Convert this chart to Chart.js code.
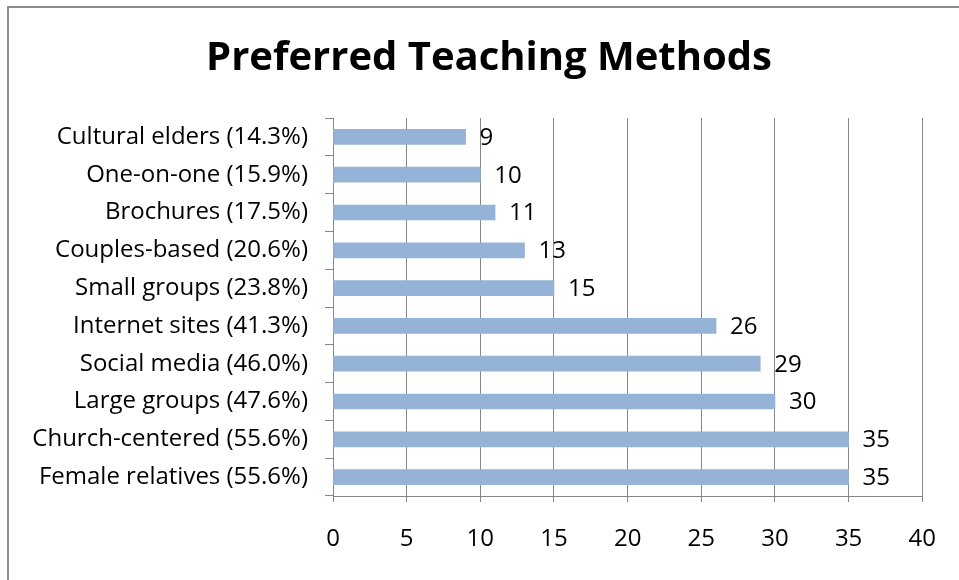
<!DOCTYPE html>
<html>
<head>
<meta charset="utf-8">
<script src="https://cdn.jsdelivr.net/npm/chart.js@4/dist/chart.umd.min.js"></script>
<style>
  html, body { margin: 0; padding: 0; background: #fff; overflow: hidden; }
  #wrap { position: relative; width: 959px; height: 580px; }
  #frame { position: absolute; left: 7px; top: 6px; width: 1000px; height: 640px; border: 2px solid #8c8c8c; box-sizing: border-box; }
  canvas { position: absolute; left: 0; top: 0; }
</style>
</head>
<body>
<div id="wrap">
  <div id="frame"></div>
  <canvas id="chart" width="959" height="580"></canvas>
</div>
<script>
// Dữ liệu biểu đồ (từ trên xuống dưới)
const methods = ['Cultural elders', 'One-on-one', 'Brochures', 'Couples-based', 'Small groups',
                 'Internet sites', 'Social media', 'Large groups', 'Church-centered', 'Female relatives'];
const percents = ['14.3%', '15.9%', '17.5%', '20.6%', '23.8%', '41.3%', '46.0%', '47.6%', '55.6%', '55.6%'];
const counts = [9, 10, 11, 13, 15, 26, 29, 30, 35, 35];
const xTicks = [0, 5, 10, 15, 20, 25, 30, 35, 40];

const labels = methods.map((m, i) => `${m} (${percents[i]})`);
const fontFamily = '"Open Sans", sans-serif';

// Plugin vẽ nhãn giá trị bên phải mỗi thanh
const valueLabels = {
  id: 'valueLabels',
  afterDatasetsDraw(chart) {
    const ctx = chart.ctx;
    const meta = chart.getDatasetMeta(0);
    ctx.save();
    ctx.font = `24px ${fontFamily}`;
    ctx.fillStyle = '#000';
    ctx.textAlign = 'left';
    ctx.textBaseline = 'middle';
    meta.data.forEach((bar, i) => {
      ctx.fillText(String(counts[i]), bar.x + 14, bar.y + 1);
    });
    ctx.restore();
  }
};

// Dời tiêu đề sang phải một chút cho giống bản gốc
const shiftTitle = {
  id: 'shiftTitle',
  afterLayout(chart) {
    if (chart.titleBlock) chart.titleBlock.left = 50;
  }
};

new Chart(document.getElementById('chart'), {
  type: 'bar',
  data: {
    labels: labels,
    datasets: [{
      data: counts,
      backgroundColor: '#95b3d7',
      borderWidth: 0,
      barThickness: 15
    }]
  },
  options: {
    indexAxis: 'y',
    responsive: false,
    animation: false,
    layout: { padding: { left: 0, right: 31, top: 0, bottom: 0 } },
    plugins: {
      legend: { display: false },
      tooltip: { enabled: false },
      title: {
        display: true,
        text: 'Preferred Teaching Methods',
        color: '#000',
        font: { family: fontFamily, size: 40, weight: 'bold', lineHeight: 1.2 },
        padding: { top: 35, bottom: 35 }
      }
    },
    scales: {
      x: {
        min: 0,
        max: 40,
        afterBuildTicks: (s) => { s.ticks = xTicks.map(v => ({ value: v })); },
        afterFit: (s) => { s.height = 84; },
        grid: { color: '#878787', lineWidth: 1, tickLength: 6, drawTicks: true },
        border: { color: '#878787', width: 1 },
        ticks: { color: '#000', padding: 23, font: { family: fontFamily, size: 24 } }
      },
      y: {
        afterFit: (s) => { s.width = 333; },
        grid: { offset: true, drawOnChartArea: false, color: '#878787', tickLength: 8 },
        border: { color: '#878787', width: 1 },
        ticks: { color: '#000', padding: 17, font: { family: fontFamily, size: 24 } }
      }
    }
  },
  plugins: [valueLabels, shiftTitle]
});
</script>
</body>
</html>
